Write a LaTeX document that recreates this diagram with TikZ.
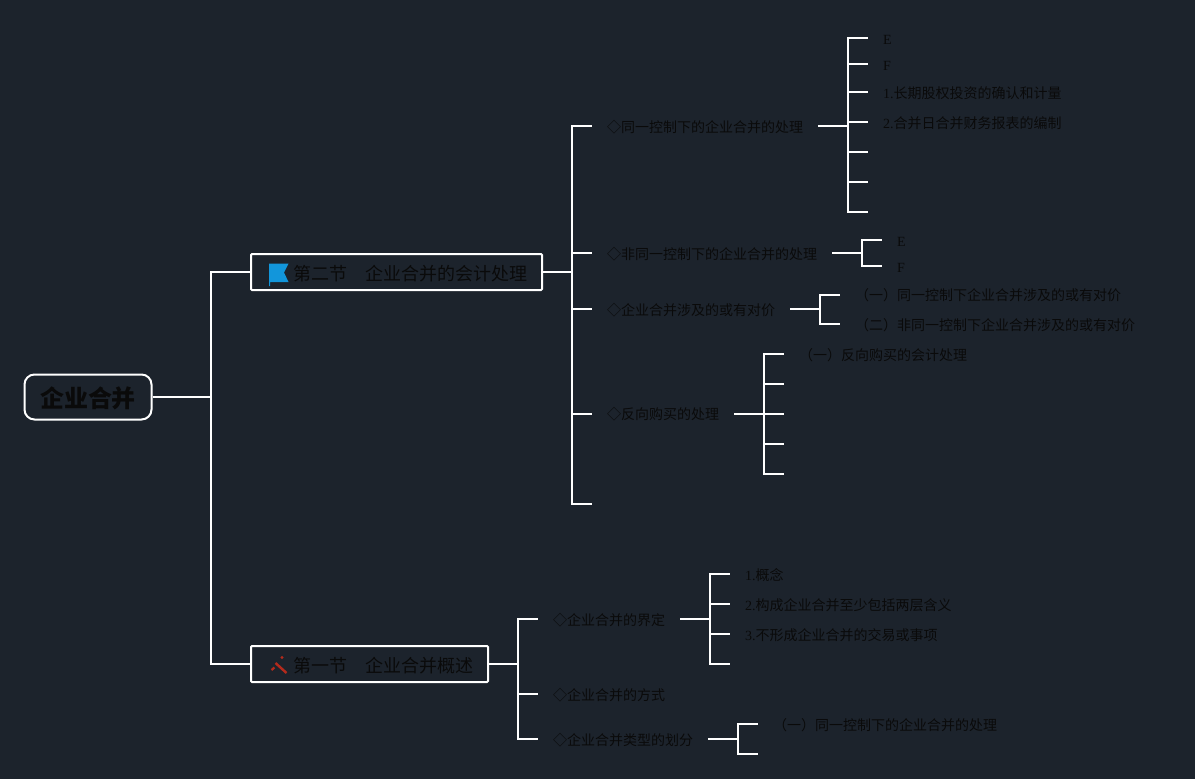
\documentclass[tikz,border=0pt]{standalone}
\usepackage{fontspec}
\setmainfont{Liberation Serif}
\newfontfamily\cjk{Noto Sans CJK SC}
\definecolor{bgc}{HTML}{1C232C}
\definecolor{inkc}{HTML}{0A0A0A}
\definecolor{flagc}{HTML}{1296DB}
\definecolor{toolc}{HTML}{B42A1C}
\tikzset{
  conn/.style={draw=white,line width=2pt},
  lab/.style={anchor=west,inner xsep=15pt,inner ysep=0pt,text=inkc,font=\fontsize{14}{14}\selectfont\cjk,text height=12.6pt,text depth=0pt},
  sec/.style={anchor=west,draw=white,line width=2pt,rounded corners=1pt,inner xsep=15pt,inner ysep=0pt,minimum height=36pt,text=inkc,font=\fontsize{18}{18}\selectfont\cjk,text height=17.7pt,text depth=0pt},
  rootbox/.style={draw=white,line width=2pt,rounded corners=10pt,minimum width=127pt,minimum height=45pt,inner sep=0pt,text=inkc,font=\fontsize{24}{24}\selectfont\cjk\bfseries,text height=20.2pt,text depth=0pt}
}
\newcommand{\lat}[1]{{\fontsize{14}{14}\selectfont\rmfamily #1}}
\begin{document}
\begin{tikzpicture}[x=1pt,y=-1pt]
\useasboundingbox (0,0) rectangle (1195,779);
\fill[bgc] (0,0) rectangle (1195,779);
% nodes
\node[rootbox] (root) at (88,397) {企业合并};
\node[sec] (s2) at (250,272) {\hspace*{27pt}第二节　企业合并的会计处理};
\node[sec] (s1) at (250,664) {\hspace*{27pt}第一节　企业合并概述};
\node[lab] (a1) at (592,126) {◇同一控制下的企业合并的处理};
\node[lab] (a2) at (592,253) {◇非同一控制下的企业合并的处理};
\node[lab] (a3) at (592,309) {◇企业合并涉及的或有对价};
\node[lab] (a4) at (592,413.5) {◇反向购买的处理};
\coordinate (a5) at (592,504);
\node[lab] (b1) at (538,619) {◇企业合并的界定};
\node[lab] (b2) at (538,694) {◇企业合并的方式};
\node[lab] (b3) at (538,739) {◇企业合并类型的划分};
\node[lab] (a11) at (868,38) {\lat{E}};
\node[lab] (a12) at (868,64) {\lat{F}};
\node[lab] (a13) at (868,92) {\lat{1.}长期股权投资的确认和计量};
\node[lab] (a14) at (868,122) {\lat{2.}合并日合并财务报表的编制};
\coordinate (a15) at (868,152);
\coordinate (a16) at (868,182);
\coordinate (a17) at (868,212);
\node[lab] (a21) at (882,240) {\lat{E}};
\node[lab] (a22) at (882,266) {\lat{F}};
\node[lab] (a31) at (840,294.5) {（一）同一控制下企业合并涉及的或有对价};
\node[lab] (a32) at (840,324) {（二）非同一控制下企业合并涉及的或有对价};
\node[lab] (a41) at (784,354) {（一）反向购买的会计处理};
\coordinate (a42) at (784,384);
\coordinate (a43) at (784,414);
\coordinate (a44) at (784,444);
\coordinate (a45) at (784,474);
\node[lab] (b11) at (730,574) {\lat{1.}概念};
\node[lab] (b12) at (730,604) {\lat{2.}构成企业合并至少包括两层含义};
\node[lab] (b13) at (730,634) {\lat{3.}不形成企业合并的交易或事项};
\coordinate (b14) at (730,664);
\node[lab] (b31) at (758,724) {（一）同一控制下的企业合并的处理};
\coordinate (b32) at (758,754);
% junctions
\coordinate (j0) at (211,397);
\coordinate (j2) at (572,272);
\coordinate (j1) at (518,664);
\coordinate (ja1) at (848,126);
\coordinate (ja2) at (862,253);
\coordinate (ja3) at (820,309);
\coordinate (ja4) at (764,413.5);
\coordinate (jb1) at (710,619);
\coordinate (jb3) at (738,739);
% connectors
\draw[conn] (root.east) -- (j0);
\draw[conn] (j0) |- (s2.west);
\draw[conn] (j0) |- (s1.west);
\draw[conn] (s2.east) -- (j2);
\foreach \t in {a1,a2,a3,a4,a5}{\draw[conn] (j2) |- (\t);}
\draw[conn] (s1.east) -- (j1);
\foreach \t in {b1,b2,b3}{\draw[conn] (j1) |- (\t);}
\draw[conn] (a1.east) -- (ja1);
\foreach \t in {a11,a12,a13,a14,a15,a16,a17}{\draw[conn] (ja1) |- (\t);}
\draw[conn] (a2.east) -- (ja2);
\foreach \t in {a21,a22}{\draw[conn] (ja2) |- (\t);}
\draw[conn] (a3.east) -- (ja3);
\foreach \t in {a31,a32}{\draw[conn] (ja3) |- (\t);}
\draw[conn] (a4.east) -- (ja4);
\foreach \t in {a41,a42,a43,a44,a45}{\draw[conn] (ja4) |- (\t);}
\draw[conn] (b1.east) -- (jb1);
\foreach \t in {b11,b12,b13,b14}{\draw[conn] (jb1) |- (\t);}
\draw[conn] (b3.east) -- (jb3);
\foreach \t in {b31,b32}{\draw[conn] (jb3) |- (\t);}
% flag icon
\fill[flagc] (269,263.5) -- (288.5,263.5) -- (284,272.5) -- (288.5,282) -- (270.2,282) -- (270.2,286) -- (269,286) -- cycle;
% tool icon
\draw[toolc,line width=2.4pt] (275.5,663) -- (286.5,673);
\draw[toolc,line width=2.2pt] (271.5,670) -- (274.5,667.5);
\fill[toolc] (282,657.5) circle (1.6);
\end{tikzpicture}
\end{document}
